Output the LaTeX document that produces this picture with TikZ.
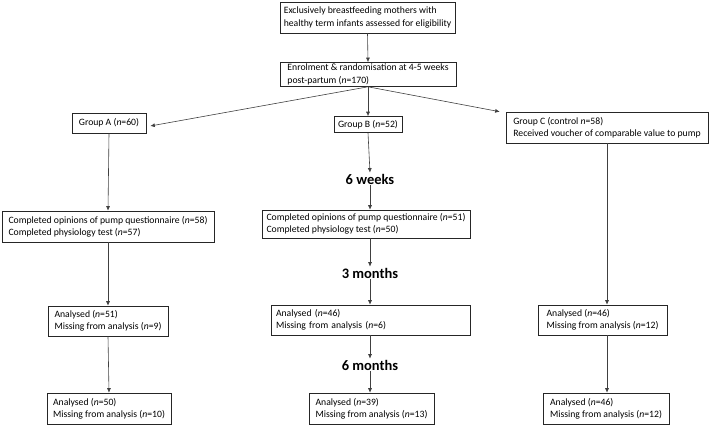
\documentclass[tikz,border=0pt]{standalone}
\usepackage{fontspec}
\setmainfont{Carlito}
\usetikzlibrary{arrows.meta}
\begin{document}
\begin{tikzpicture}[x=1pt,y=-1pt,
  box/.style={draw=black!85, line width=0.6pt, inner xsep=3pt, inner ysep=0pt,
    font=\fontsize{9.7}{12.2}\selectfont, align=left},
  stage/.style={font=\fontsize{14.5}{17}\selectfont\bfseries, inner sep=1pt},
  arr/.style={draw=black!75, line width=0.6pt, -{Latex[length=4.5pt,width=4pt]}}]
\useasboundingbox (0,0) rectangle (709,426);
\node[box, minimum width=175pt, minimum height=31pt] (elig) at (367.5,17.5)
  {Exclusively breastfeeding mothers with\\healthy term infants assessed for eligibility};
\node[box, minimum width=176pt, minimum height=24pt] (enrol) at (368,74.5)
  {Enrolment \& randomisation at 4-5 weeks\\post-partum (\textit{n}=170)};
\node[box, minimum width=74pt, minimum height=20pt] (gA) at (109,123) {Group A (\textit{n}=60)};
\node[box, minimum width=68pt, minimum height=16pt] (gB) at (368,124.5) {Group B (\textit{n}=52)};
\node[box, minimum width=202pt, minimum height=31pt] (gC) at (607,127.5)
  {Group C (control \textit{n}=58)\\Received voucher of comparable value to pump};
\node[stage] (w6) at (370,179) {6 weeks};
\node[box, minimum width=212pt, minimum height=31pt] (a2) at (108,226.5)
  {Completed opinions of pump questionnaire (\textit{n}=58)\\Completed physiology test (\textit{n}=57)};
\node[box, minimum width=208pt, minimum height=28pt] (b2) at (366,224)
  {Completed opinions of pump questionnaire (\textit{n}=51)\\Completed physiology test (\textit{n}=50)};
\node[stage] (m3) at (370,273) {3 months};
\node[box, minimum width=120pt, minimum height=30pt] (a3) at (108,321)
  {Analysed (\textit{n}=51)\\Missing from analysis (\textit{n}=9)};
\node[box, inner xsep=5pt, text width=189pt, minimum height=30pt] (b3) at (370.5,320)
  {Analysed (\textit{n}=46)\\Missing from analysis (\textit{n}=6)};
\node[box, minimum width=129pt, minimum height=30pt] (c3) at (602.5,320)
  {Analysed (\textit{n}=46)\\Missing from analysis (\textit{n}=12)};
\node[stage] (m6) at (370,365) {6 months};
\node[box, minimum width=124pt, minimum height=31pt] (a4) at (109,408.5)
  {Analysed (\textit{n}=50)\\Missing from analysis (\textit{n}=10)};
\node[box, minimum width=125pt, minimum height=31pt] (b4) at (371.5,408.5)
  {Analysed (\textit{n}=39)\\Missing from analysis (\textit{n}=13)};
\node[box, minimum width=126pt, minimum height=31pt] (c4) at (606,408.5)
  {Analysed (\textit{n}=46)\\Missing from analysis (\textit{n}=12)};
% connectors
\draw[arr] (elig.south) -- (enrol.north);
\draw[arr] (enrol.south) -- ([xshift=4pt,yshift=-3pt]gA.east);
\draw[arr] (enrol.south) -- (gB.north);
\draw[arr] (enrol.south) -- ([xshift=-6pt]gC.north west);
\draw[arr] (gA.south) -- (a2.north);
\draw[arr] (a2.south) -- (a3.north);
\draw[arr] (a3.south) -- (a4.north);
\draw[arr] (gB.south) -- (w6.north);
\draw[arr] (w6.south) -- (b2.north -| w6.south);
\draw[arr] (b2.south -| m3.north) -- (m3.north);
\draw[arr] (m3.south) -- (b3.north -| m3.south);
\draw[arr] (b3.south -| m6.north) -- (m6.north);
\draw[arr] (m6.south) -- (b4.north -| m6.south);
\draw[arr] (gC.south) -- (c3.north -| gC.south);
\draw[arr] (c3.south -| gC.south) -- (c4.north -| gC.south);
\end{tikzpicture}
\end{document}
